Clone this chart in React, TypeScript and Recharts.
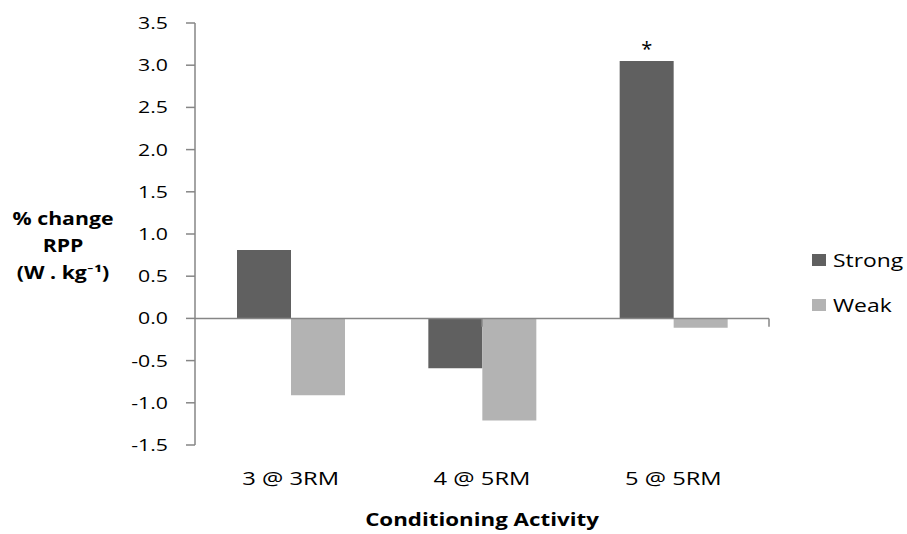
import React from 'react';
import { BarChart, Bar, XAxis, YAxis, ReferenceLine, Legend, LabelList } from 'recharts';

const categories = ['3 @ 3RM', '4 @ 5RM', '5 @ 5RM'];
const strongValues = [0.81, -0.59, 3.05];
const weakValues = [-0.91, -1.21, -0.11];
const significance = ['', '', '*'];
const yTicks = [-1.5, -1.0, -0.5, 0.0, 0.5, 1.0, 1.5, 2.0, 2.5, 3.0, 3.5];
const seriesNames = ['Strong', 'Weak'];
const yTitleLines = ['% change', 'RPP', '(W . kg\u207B\u00B9)'];
const xTitle = 'Conditioning Activity';

const data = categories.map((c, i) => ({
  cat: c,
  strong: strongValues[i],
  weak: weakValues[i],
  sig: significance[i],
}));
const boundaries = categories.map((_, i) => i + 1);

const FONT = '"Open Sans", Lato, sans-serif';
const SX = 1.25;
const AXIS = '#868686';
const STRONG = '#606060';
const WEAK = '#b3b3b3';
const LEGEND_W = 95;

function SText({ x, y, anchor = 'middle', bold = false, size = 17, sx = SX, dy = '0.355em', children }: any) {
  return (
    <text
      transform={`translate(${x},${y}) scale(${sx},1)`}
      x={0}
      y={0}
      dy={dy}
      textAnchor={anchor}
      fontFamily={FONT}
      fontSize={size}
      fontWeight={bold ? 700 : 400}
      fill="#000"
    >
      {children}
    </text>
  );
}

const YTick = (props: any) => {
  const { x, y, payload } = props;
  return <SText x={x} y={y} anchor="end">{Number(payload.value).toFixed(1)}</SText>;
};

const XTick = (props: any) => {
  const { x, y, payload } = props;
  return <SText x={x} y={y} anchor="middle" size={18} sx={1.32}>{payload.value}</SText>;
};

const YTitle = (props: any) => {
  const vb = props.viewBox || { x: 0, y: 0 };
  const cx = vb.x + 63;
  return (
    <g>
      {yTitleLines.map((t, i) => (
        <SText key={i} x={cx} y={225 + i * 27} anchor="middle" bold dy="0">
          {t}
        </SText>
      ))}
    </g>
  );
};

const XTitle = (props: any) => {
  const vb = props.viewBox || { x: 0, y: 0, width: 0 };
  return (
    <SText x={vb.x + vb.width / 2} y={vb.y + 75} anchor="middle" bold size={18} sx={1.24}>
      {xTitle}
    </SText>
  );
};

const LegendContent = (props: any) => {
  const payload = props.payload || [];
  return (
    <div style={{ fontFamily: FONT, width: LEGEND_W }}>
      {payload.map((p: any, i: number) => (
        <div key={i} style={{ display: 'flex', alignItems: 'center', height: 45 }}>
          <div style={{ width: 14, height: 12, background: p.color, marginRight: 7 }} />
          <div
            style={{
              fontSize: 18,
              color: '#000',
              transform: `scaleX(1.27)`,
              transformOrigin: 'left center',
              whiteSpace: 'nowrap',
            }}
          >
            {p.value}
          </div>
        </div>
      ))}
    </div>
  );
};

export default function App() {
  return (
    <div style={{ position: 'absolute', left: 0, top: 0, width: 907, height: 534, background: '#fff' }}>
      <BarChart
        width={907}
        height={534}
        data={data}
        margin={{ top: 23, right: 138 - LEGEND_W, bottom: 29, left: 0 }}
        barGap={0}
        barSize={54}
      >
        <XAxis
          dataKey="cat"
          axisLine={false}
          tickLine={false}
          tickSize={0}
          tickMargin={34}
          height={60}
          tick={<XTick />}
          interval={0}
          label={<XTitle />}
        />
        <XAxis xAxisId="n" type="number" domain={[0, categories.length]} hide />
        <YAxis
          width={195}
          domain={[-1.5, 3.5]}
          ticks={yTicks}
          interval={0}
          tickSize={9}
          tickMargin={18}
          axisLine={{ stroke: AXIS, strokeWidth: 1.5 }}
          tickLine={{ stroke: AXIS, strokeWidth: 1.5 }}
          tick={<YTick />}
          label={<YTitle />}
        />
        <Bar dataKey="strong" name={seriesNames[0]} fill={STRONG} isAnimationActive={false}>
          <LabelList dataKey="sig" position="top" offset={5} fontSize={20} fontFamily={FONT} fill="#000" />
        </Bar>
        <Bar dataKey="weak" name={seriesNames[1]} fill={WEAK} isAnimationActive={false} />
        <ReferenceLine y={0} stroke={AXIS} strokeWidth={1.5} />
        {boundaries.map((b) => (
          <ReferenceLine
            key={b}
            xAxisId="n"
            segment={[{ x: b, y: 0 }, { x: b, y: -0.1 }]}
            stroke={AXIS}
            strokeWidth={1.5}
          />
        ))}
        <Legend
          layout="vertical"
          align="right"
          verticalAlign="middle"
          content={<LegendContent />}
          wrapperStyle={{ left: 812, top: 237, width: LEGEND_W, right: 'auto' }}
        />
      </BarChart>
    </div>
  );
}
